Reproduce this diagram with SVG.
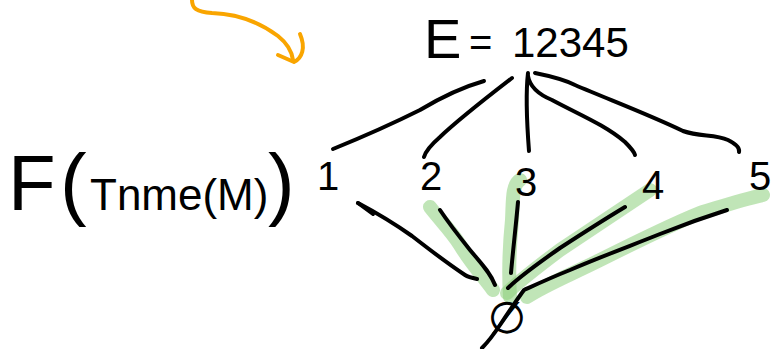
<svg xmlns="http://www.w3.org/2000/svg" width="779" height="349" viewBox="0 0 779 349">
<style>
.ink{fill:none;stroke:#000;stroke-width:4;stroke-linecap:round;stroke-linejoin:round}
.hl{fill:none;stroke:#8ccf7c;stroke-opacity:0.55;stroke-width:14;stroke-linecap:round;stroke-linejoin:round}
.or{fill:none;stroke:#f9a500;stroke-width:4;stroke-linecap:round;stroke-linejoin:round}
.lbl{font-family:"Liberation Sans",Arial,sans-serif;fill:#000}
</style>
<rect width="779" height="349" fill="#fff"/>
<g id="connectors">
  <path class="or" d="M192,0 C192,8 196,12 212,13 C240,14 262,24 278,36 C288,44 292,52 293,60"/>
  <path class="or" d="M278,55 L294,62 C302,58 306,48 300,34"/>
  <path class="ink" d="M484,81 C470,85 450,92 420,110 C390,125 360,138 333,149"/>
  <path class="ink" d="M512,78 C490,95 460,118 440,137 C432,144 426,150 424,157"/>
  <path class="ink" d="M528,73 C526,90 527,125 529,151"/>
  <path class="ink" d="M528,76 C530,88 540,95 552,100 C580,115 605,125 625,142 C630,147 634,151 635,155"/>
  <path class="ink" d="M535,73 C550,76 565,80 575,85 C610,100 650,115 683,131 C700,137 715,134 728,140 C736,144 740,148 739,152"/>
  <path class="hl" d="M430,207 C440,220 452,232 460,245 C470,262 482,275 493,290"/>
  <path class="hl" d="M520,180 C512,185 513,200 512,220 C510,240 508,265 510,297"/>
  <path class="hl" d="M650,190 C620,210 590,230 560,250 C540,265 520,280 507,293"/>
  <path class="hl" d="M763,195 C740,200 720,207 700,213 C670,225 630,245 600,260 C570,275 545,285 527,297"/>
  <path class="ink" d="M477,279 C472,278 468,277 465,275 C450,265 430,250 412,236 C395,224 375,212 358,203"/>
  <path class="ink" d="M358,203 L373,214"/>
  <path class="ink" d="M440,210 C450,225 462,240 470,250 C480,262 490,272 495,285"/>
  <path class="ink" d="M518,202 C516,225 513,250 511,273"/>
  <path class="ink" d="M625,207 C600,222 580,235 560,248 C540,262 520,276 508,288"/>
  <path class="ink" d="M727,210 C705,217 680,226 660,234 C630,246 600,257 570,270 C550,278 535,285 524,290 C518,298 510,310 500,325 C494,334 488,342 482,348"/>
</g>
<g id="node-E">
  <text class="lbl"><tspan x="424" y="58" font-size="56">E</tspan><tspan x="469" y="56" font-size="40">=</tspan><tspan x="512" y="57" font-size="42">12345</tspan></text>
</g>
<g id="node-1"><text class="lbl" x="328" y="190" font-size="40" text-anchor="middle">1</text></g>
<g id="node-2"><text class="lbl" x="431" y="190" font-size="40" text-anchor="middle">2</text></g>
<g id="node-3"><text class="lbl" x="526" y="196" font-size="40" text-anchor="middle">3</text></g>
<g id="node-4"><text class="lbl" x="653" y="199" font-size="40" text-anchor="middle">4</text></g>
<g id="node-5"><text class="lbl" x="760" y="190" font-size="40" text-anchor="middle">5</text></g>
<g id="node-empty"><text x="507" y="333" font-family="DejaVu Sans,sans-serif" font-size="44" text-anchor="middle" fill="#000">∅</text></g>
<g id="node-F">
  <text class="lbl" y="210"><tspan x="8" font-size="78">F</tspan><tspan x="60" font-size="80">(</tspan><tspan x="90" font-size="44">Tnme(M)</tspan><tspan x="268" font-size="80">)</tspan></text>
</g>
</svg>
